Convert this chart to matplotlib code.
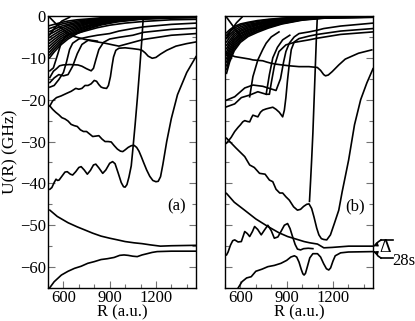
import numpy as np
import matplotlib
matplotlib.use('Agg')
import matplotlib.pyplot as plt
from matplotlib.lines import Line2D

plt.rcParams['font.family'] = ['Liberation Serif', 'DejaVu Serif']

# ---------------- panel (a) data: (R in a.u., U in GHz) ----------------
fan_a_R = [510, 540, 580, 630, 690, 760, 850, 950, 1100, 1300, 1460]
fan_a_U = [
    [-10.0, -8.6, -7.0, -5.5, -4.2, -3.1, -2.1, -1.4, -0.8, -0.5, -0.4],
    [-9.3, -8.0, -6.5, -5.1, -3.9, -2.9, -1.9, -1.3, -0.7, -0.4, -0.3],
    [-8.6, -7.4, -6.0, -4.7, -3.6, -2.6, -1.7, -1.1, -0.6, -0.35, -0.25],
    [-7.9, -6.8, -5.5, -4.3, -3.3, -2.4, -1.6, -1.0, -0.5, -0.3, -0.2],
    [-7.2, -6.2, -5.0, -3.9, -3.0, -2.2, -1.4, -0.9, -0.45, -0.25, -0.2],
    [-6.5, -5.6, -4.5, -3.5, -2.7, -1.9, -1.3, -0.8, -0.4, -0.2, -0.15],
    [-5.8, -5.0, -4.0, -3.1, -2.4, -1.7, -1.1, -0.7, -0.35, -0.2, -0.1],
    [-5.1, -4.4, -3.5, -2.7, -2.1, -1.5, -1.0, -0.6, -0.3, -0.15, -0.1],
    [-4.4, -3.8, -3.0, -2.3, -1.8, -1.3, -0.8, -0.5, -0.25, -0.1, -0.1],
    [-3.7, -3.2, -2.5, -2.0, -1.5, -1.1, -0.7, -0.4, -0.2, -0.1, -0.05],
    [-3.0, -2.6, -2.0, -1.6, -1.2, -0.9, -0.6, -0.3, -0.15, -0.05, 0.0],
    [-2.3, -2.0, -1.6, -1.2, -0.9, -0.7, -0.4, -0.2, -0.1, 0.0, 0.0],
]

curves_a = [
    # X lines in the top-left corner
    ([510, 550, 600, 660, 740, 820], [-0.3, -1.8, -3.3, -4.8, -5.6, -6.0]),
    ([510, 545, 590, 640], [-4.5, -2.8, -1.2, -0.3]),
    # step-like curves
    ([512, 535, 555, 575, 598, 640, 694, 720, 750, 780, 795, 810, 830, 860, 900, 960, 1050, 1120, 1300, 1460],
     [-14.7, -13.2, -12.6, -11.9, -11.7, -11.6, -11.7, -12.0, -12.6, -13.1, -12.5, -10.5, -8.0, -6.3, -5.5, -5.1, -4.6, -3.9, -3.2, -2.9]),
    ([512, 530, 555, 585, 620, 650, 680, 700, 720, 740, 760, 780, 800, 815, 830, 845, 860, 880, 892, 905, 915,
      925, 940, 960, 1000, 1050, 1090, 1110, 1130, 1150, 1176, 1200, 1230, 1270, 1330, 1400, 1460],
     [-21.5, -20.3, -19.5, -19.1, -18.5, -18.0, -17.3, -17.5, -17.3, -16.6, -16.6, -16.2, -15.4, -15.6, -16.4, -17.0,
      -17.2, -17.3, -16.6, -14.5, -12.0, -9.8, -8.2, -7.7, -7.6, -7.8, -8.0, -8.2, -8.8, -9.6, -10.1, -9.9, -9.1,
      -8.2, -7.2, -6.6, -6.2]),
    ([512, 540, 570, 600, 620, 640, 660, 700, 760, 820, 900, 960, 1050, 1120, 1300, 1460],
     [-17.0, -16.6, -15.2, -13.5, -11.0, -8.0, -6.5, -5.5, -5.0, -4.6, -4.2, -3.6, -3.0, -2.6, -2.0, -1.7]),
    ([512, 540, 570, 600, 630, 660, 690, 720, 760, 820, 870, 920, 960, 1000, 1060, 1120, 1300, 1460],
     [-15.9, -14.8, -14.0, -14.3, -14.0, -12.0, -9.0, -6.8, -5.8, -6.2, -6.5, -6.9, -7.2, -6.8, -6.2, -5.6, -4.6, -4.2]),
    ([512, 535, 560, 585, 610, 640, 700, 760, 820, 900, 1000, 1120, 1300, 1460],
     [-13.1, -12.4, -9.5, -6.5, -5.0, -4.3, -4.0, -3.4, -2.8, -2.2, -1.7, -1.3, -0.9, -0.8]),
    # curve starting at -21.5 going down, then deep well
    ([512, 530, 550, 570, 590, 610, 630, 650, 670, 690, 710, 730, 750, 770, 790, 810, 830, 850, 870, 890,
      910, 930, 950, 970, 985, 1000, 1020, 1040, 1058, 1075, 1090, 1105, 1120, 1140, 1160, 1180, 1200,
      1215, 1230, 1245, 1270, 1300, 1340, 1400, 1460],
     [-21.5, -22.3, -23.0, -23.6, -24.3, -24.6, -25.1, -25.9, -26.2, -26.4, -27.2, -27.6, -27.6, -28.2, -28.8,
      -28.7, -28.6, -29.4, -30.0, -30.0, -30.1, -31.0, -31.8, -32.3, -32.4, -32.0, -31.4, -31.0, -30.9, -31.4,
      -32.3, -33.6, -35.0, -36.8, -38.3, -39.3, -39.6, -39.5, -38.4, -35.5, -30.0, -24.5, -18.8, -13.5, -9.7]),
    # oscillating curve from -41 plus nearly vertical branch
    ([512, 525, 540, 552, 562, 572, 590, 610, 625, 645, 660, 680, 700, 715, 735, 755, 775, 795, 810, 830,
      855, 875, 900, 919, 935, 955, 975, 990, 1000, 1012, 1025, 1040, 1050, 1065, 1080, 1095, 1108, 1118],
     [-41.4, -41.0, -39.8, -39.0, -39.3, -39.2, -38.3, -37.3, -37.2, -37.8, -38.0, -37.2, -36.2, -36.0, -36.8,
      -37.8, -36.9, -35.6, -35.4, -36.3, -37.6, -36.8, -35.2, -34.8, -35.3, -37.5, -39.8, -40.8, -40.9, -40.3,
      -38.5, -35.8, -32.0, -26.0, -19.5, -12.5, -6.0, -0.3]),
    # lowest two curves
    ([512, 560, 630, 690, 737, 790, 844, 900, 951, 1000, 1058, 1110, 1165, 1229, 1300, 1460],
     [-46.4, -47.9, -49.4, -50.4, -51.1, -51.9, -52.6, -53.1, -53.5, -53.9, -54.2, -54.4, -54.7, -55.0, -54.9, -54.8]),
    ([512, 540, 587, 630, 672, 715, 758, 800, 844, 885, 929, 965, 993, 1020, 1050, 1079, 1110, 1143, 1175, 1208, 1300, 1460],
     [-64.9, -63.5, -61.9, -61.0, -60.3, -59.8, -59.1, -58.7, -58.2, -58.0, -57.7, -57.2, -57.1, -57.2, -57.4,
      -57.5, -57.1, -56.8, -56.5, -56.3, -56.2, -56.2]),
]

# ---------------- panel (b) data ----------------
fan_b_R = [510, 530, 560, 600, 650, 710, 780, 870, 1000, 1150, 1460]
fan_b_U = [
    [-13.7, -11.0, -8.3, -6.3, -4.9, -3.9, -2.9, -1.9, -1.0, -0.5, -0.3],
    [-12.8, -10.3, -7.8, -5.9, -4.6, -3.6, -2.7, -1.8, -0.9, -0.45, -0.3],
    [-11.9, -9.6, -7.3, -5.5, -4.3, -3.4, -2.5, -1.7, -0.85, -0.4, -0.25],
    [-11.0, -8.9, -6.8, -5.1, -4.0, -3.1, -2.3, -1.5, -0.8, -0.4, -0.25],
    [-10.2, -8.3, -6.3, -4.8, -3.7, -2.9, -2.1, -1.4, -0.7, -0.35, -0.2],
    [-9.4, -7.7, -5.8, -4.4, -3.4, -2.7, -1.9, -1.3, -0.65, -0.3, -0.2],
    [-8.6, -7.0, -5.4, -4.1, -3.2, -2.5, -1.8, -1.2, -0.6, -0.3, -0.15],
    [-7.8, -6.4, -4.9, -3.7, -2.9, -2.2, -1.6, -1.1, -0.5, -0.25, -0.15],
    [-7.0, -5.8, -4.4, -3.4, -2.6, -2.0, -1.4, -1.0, -0.45, -0.2, -0.1],
    [-6.2, -5.1, -3.9, -3.0, -2.3, -1.8, -1.3, -0.8, -0.4, -0.2, -0.1],
    [-5.4, -4.5, -3.4, -2.6, -2.0, -1.6, -1.1, -0.7, -0.35, -0.15, -0.1],
    [-4.6, -3.8, -2.9, -2.2, -1.7, -1.3, -0.9, -0.6, -0.3, -0.1, -0.05],
    [-4.0, -3.3, -2.5, -1.9, -1.5, -1.1, -0.8, -0.5, -0.25, -0.1, 0.0],
]

curves_b = [
    ([510, 540, 575, 610], [-0.3, -1.8, -3.6, -5.2]),
    ([510, 540, 575, 610], [-5.2, -3.4, -1.6, -0.3]),
    # step-like curves
    ([510, 563, 628, 681, 745, 788, 831, 860, 880, 895, 917, 949, 980, 1045, 1099, 1140, 1250, 1460],
     [-20.1, -19.3, -17.2, -16.5, -16.8, -17.3, -17.8, -15.0, -11.0, -8.5, -6.5, -5.0, -4.2, -3.8, -3.4, -3.0, -2.4, -1.7]),
    ([510, 563, 606, 660, 713, 767, 788, 800, 820, 850, 895, 950, 1045, 1099, 1250, 1460],
     [-21.7, -21.0, -19.5, -18.9, -18.1, -18.7, -18.7, -16.0, -12.0, -8.5, -6.9, -6.3, -5.7, -5.3, -4.4, -3.8]),
    ([510, 563, 628, 660, 681, 713, 745, 770, 800, 830, 870, 917, 980, 1045, 1099, 1120, 1140, 1152, 1170,
      1195, 1238, 1280, 1366, 1452],
     [-8.9, -9.7, -10.1, -10.3, -10.5, -10.6, -10.7, -11.0, -11.3, -11.5, -11.7, -11.9, -12.1, -12.1, -12.3,
      -13.0, -14.0, -14.3, -14.1, -13.3, -11.7, -10.3, -8.9, -8.1]),
    ([660, 681, 713, 745, 767, 800, 850],
     [-19.3, -14.5, -10.5, -8.0, -6.5, -5.0, -3.8]),
    ([767, 788, 810, 840, 874, 920],
     [-18.7, -14.0, -10.0, -7.5, -5.7, -4.6]),
    # wiggly curve from -30 climbing up
    ([510, 540, 563, 585, 600, 615, 628, 645, 660, 672, 681, 697, 713, 730, 745, 767, 788, 810, 831, 852,
      874, 885, 895, 905, 917, 930, 949, 980, 1045, 1099, 1250, 1460],
     [-30.4, -29.0, -27.6, -26.6, -26.0, -25.3, -25.0, -25.2, -25.3, -24.3, -23.7, -23.9, -24.1, -23.0, -22.5,
      -22.2, -22.0, -21.8, -22.3, -23.0, -24.1, -22.5, -19.5, -15.5, -11.5, -8.0, -6.2, -5.4, -4.8, -4.4, -3.6, -3.0]),
    # curve from -29 falling to the deep well
    ([510, 570, 628, 660, 690, 724, 760, 788, 810, 831, 855, 874, 895, 917, 945, 970, 990, 1010, 1030, 1045,
      1062, 1077, 1095, 1109, 1125, 1140, 1160, 1184, 1210, 1238, 1260, 1280, 1302, 1340, 1380, 1420, 1460],
     [-29.2, -31.5, -33.6, -35.6, -36.2, -37.6, -37.8, -39.2, -39.6, -41.4, -42.3, -42.3, -43.2, -44.0, -45.6,
      -46.4, -46.2, -45.5, -45.0, -44.9, -46.0, -48.0, -50.7, -52.3, -53.2, -53.4, -53.5, -52.3, -49.5, -46.4,
      -42.0, -38.4, -34.4, -26.0, -20.0, -16.0, -12.6]),
    # nearly vertical branch
    ([1099, 1092, 1085, 1078, 1070, 1062, 1055, 1048],
     [0.0, -6.0, -13.0, -20.0, -28.0, -34.4, -39.5, -44.3]),
    # curve from -42 descending to the upper asymptote
    ([510, 560, 627, 700, 778, 850, 906, 960, 1013, 1050, 1100, 1141, 1195, 1302, 1460],
     [-42.4, -44.5, -46.4, -48.5, -50.3, -51.8, -52.7, -53.3, -53.9, -54.2, -54.5, -55.4, -55.3, -55.0, -55.0]),
    # wiggly curve from -57
    ([510, 520, 535, 550, 563, 585, 606, 618, 628, 645, 660, 678, 692, 712, 735, 755, 778, 800, 820, 843,
      863, 885, 906, 922, 938, 955, 970, 990, 1010, 1040, 1070],
     [-57.1, -56.4, -54.8, -53.7, -53.5, -54.0, -53.9, -52.6, -51.5, -52.0, -52.7, -51.5, -50.3, -51.0, -52.3,
      -51.2, -50.0, -51.3, -53.1, -52.8, -51.5, -50.0, -49.6, -50.8, -52.7, -54.6, -55.7, -55.9, -55.6, -55.5, -55.6]),
    # lowest curve
    ([585, 610, 640, 670, 700, 740, 778, 820, 863, 900, 927, 950, 965, 980, 995, 1005, 1013, 1022, 1035, 1050,
      1070, 1100, 1120, 1140, 1158, 1173, 1185, 1200, 1215, 1250, 1300, 1460],
     [-65.0, -63.5, -62.6, -62.3, -61.0, -60.5, -59.9, -59.6, -59.1, -58.4, -57.6, -57.3, -57.6, -58.8, -60.6,
      -61.6, -61.9, -61.5, -59.8, -57.8, -56.8, -56.8, -57.6, -59.2, -60.4, -60.7, -60.2, -58.6, -57.3, -56.6,
      -56.4, -56.3]),
]

fig = plt.figure(figsize=(4.15, 3.21), dpi=100)
ax_a = fig.add_axes([48 / 415, 1 - 288 / 321, 148 / 415, 272 / 321])
ax_b = fig.add_axes([225 / 415, 1 - 288 / 321, 148 / 415, 272 / 321])

lw = 1.2
for ax, fan_R, fan_U, curves in [(ax_a, fan_a_R, fan_a_U, curves_a), (ax_b, fan_b_R, fan_b_U, curves_b)]:
    for u in fan_U:
        ax.plot(fan_R, u, color='black', lw=lw)
    for r, u in curves:
        ax.plot(r, u, color='black', lw=lw)
    ax.set_xlim(510, 1460)
    ax.set_ylim(-65, 0)
    ax.set_xticks([600, 900, 1200])
    ax.set_xticks([500, 700, 800, 1000, 1100, 1300, 1400], minor=True)
    ax.set_yticks([0, -10, -20, -30, -40, -50, -60])
    ax.set_yticks([-5, -15, -25, -35, -45, -55, -65], minor=True)
    ax.tick_params(which='both', direction='in', right=True, top=False, color='0.45',
                   labelsize=12, pad=1.5)
    ax.tick_params(which='major', length=5, width=0.8)
    ax.tick_params(which='minor', length=3, width=0.8)
    for s in ax.spines.values():
        s.set_linewidth(1.0)
    ax.set_xlabel('R (a.u.)', fontsize=12, labelpad=-1)

ax_a.set_ylabel('U(R) (GHz)', fontsize=12.5, labelpad=1)
ax_b.set_yticklabels([])
ax_a.text(0.87, 0.3, '(a)', transform=ax_a.transAxes, fontsize=12, ha='center', va='center')
ax_b.text(0.88, 0.3, '(b)', transform=ax_b.transAxes, fontsize=12, ha='center', va='center')

# Delta_28s marker
def fx(px):
    return px / 415

def fy(py):
    return 1 - py / 321

fig.text(fx(385), fy(247), 'Δ', fontsize=13, ha='center', va='center')
fig.text(fx(404), fy(261), '28s', fontsize=12, ha='center', va='center')
fig.add_artist(Line2D([fx(381), fx(393)], [fy(240), fy(240)], color='black', lw=1.2))
fig.add_artist(Line2D([fx(381), fx(393)], [fy(258), fy(258)], color='black', lw=1.2))
fig.add_artist(Line2D([fx(376), fx(378), fx(381)], [fy(245), fy(242), fy(240)], color='black', lw=1.2))
fig.add_artist(Line2D([fx(376), fx(378), fx(381)], [fy(252.5), fy(256), fy(258)], color='black', lw=1.2))
ax_b.annotate('', xy=(1460, -55.0), xycoords='data', xytext=(fx(377), fy(244.5)), textcoords='figure fraction',
              arrowprops=dict(arrowstyle='-|>', color='black', lw=1.0, mutation_scale=6), annotation_clip=False)
ax_b.annotate('', xy=(1460, -56.3), xycoords='data', xytext=(fx(377), fy(253)), textcoords='figure fraction',
              arrowprops=dict(arrowstyle='-|>', color='black', lw=1.0, mutation_scale=6), annotation_clip=False)

fig.savefig('out.png', dpi=100)
